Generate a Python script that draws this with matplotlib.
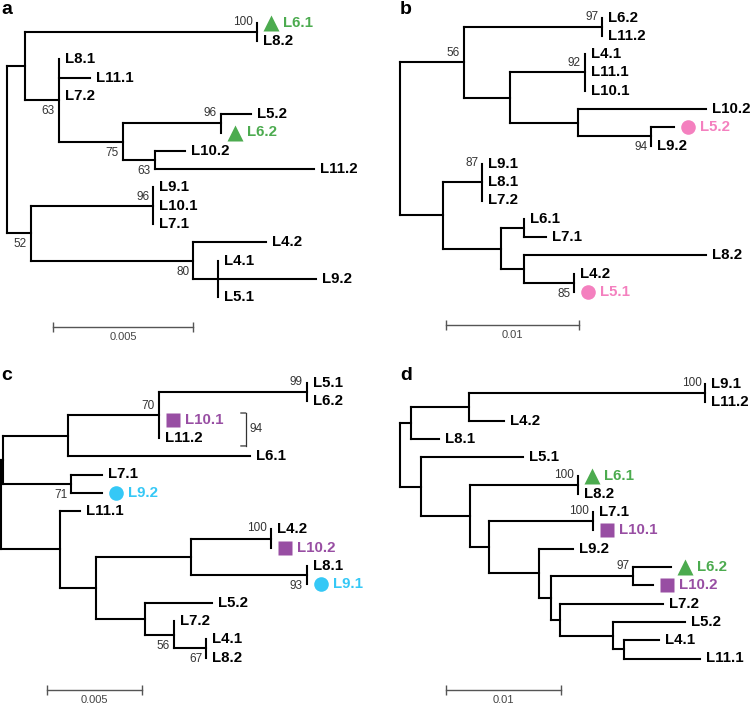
import matplotlib
matplotlib.use("Agg")
import matplotlib.pyplot as plt
from matplotlib.transforms import offset_copy

plt.rcParams['font.family'] = ['Liberation Sans', 'DejaVu Sans']

# trees in newick form, branch lengths in substitutions/site, internal labels = bootstrap
a_tree = ("(((L6.1:0,L8.2:0)100:0.0083,(L8.1:0,L11.1:0.00114,L7.2:0,"
          "((L5.2:0.00107,L6.2:0)96:0.0035,(L10.2:0.00107,L11.2:0.0057)63:0.00114)75:0.0023)63:0.0012):0.00064,"
          "((L9.1:0,L10.1:0,L7.1:0)96:0.00436,(L4.2:0.0026,(L4.1:0,L9.2:0.0035,L5.1:0):0.00086)80:0.0058)52:0.00086);")
b_tree = ("(((L6.2:0,L11.2:0)97:0.0104,((L4.1:0,L11.1:0,L10.1:0)92:0.0056,"
          "(L10.2:0.0096,(L5.2:0.0017,L9.2:0)94:0.0055):0.0051):0.0035)56:0.0048,"
          "((L9.1:0,L8.1:0,L7.2:0)87:0.0030,((L6.1:0,L7.1:0.0017):0.0017,"
          "(L8.2:0.0137,(L4.2:0,L5.1:0)85:0.0038):0.0017):0.0044):0.0032);")
c_tree = ("(((((L5.1:0,L6.2:0)99:0.0078,L10.1:0,L11.2:0)70:0.0048,L6.1:0.0096):0.0034,"
          "(L7.1:0.0016,L9.2:0.0016)71:0.0036):0.0001,"
          "(L11.1:0.00105,(((L4.2:0,L10.2:0)100:0.0042,(L8.1:0,L9.1:0)93:0.0061):0.005,"
          "(L5.2:0.0035,(L7.2:0,(L4.1:0,L8.2:0)67:0.0017)56:0.0015):0.0026):0.0019):0.0031);")
d_tree = ("((((L9.1:0,L11.2:0)100:0.0206,L4.2:0.0031):0.0050,L8.1:0.0024):0.00096,"
          "(L5.1:0.0089,((L6.1:0,L8.2:0)100:0.0094,((L7.1:0,L10.1:0)100:0.0091,"
          "(L9.2:0.0029,((L6.2:0.0033,L10.2:0.0017)97:0.0072,(L7.2:0.0090,"
          "(L5.2:0.0063,(L4.1:0.0030,L11.1:0.0066):0.0010):0.0046):0.0008):0.0010):0.0044):0.0016):0.0043):0.0018);")

# where each bootstrap value sits, in preorder
a_support_pos = ['top', 'below', 'below', 'top', 'below', 'below', 'above', 'below']
b_support_pos = ['above', 'top', 'above', 'below', 'top', 'below']
c_support_pos = ['above', 'top', 'below', 'top', 'below', 'below', 'below']
d_support_pos = ['top', 'top', 'top', 'top']

# highlighted isolates
a_marked = ['L6.1', 'L6.2']
b_marked = ['L5.2', 'L5.1']
c_marked = ['L10.1', 'L10.2', 'L9.2', 'L9.1']
d_marked = ['L6.1', 'L6.2', 'L10.1', 'L10.2']

scale_lengths = [0.005, 0.01, 0.005, 0.01]
scale_labels = ['0.005', '0.01', '0.005', '0.01']
c_bracket = ('L10.1', 'L11.2', '94')

marker_style = {'L6': ('^', '#4cab4f'), 'L5': ('o', '#f480bf'),
                'L9': ('o', '#35c8f6'), 'L10': ('s', '#984ea3')}

W, H = 753, 706
SP = 18.3  # px between leaves


def parse(s):
    s = s.strip().rstrip(';')
    pos = 0

    def node():
        nonlocal pos
        kids = []
        if s[pos] == '(':
            pos += 1
            kids.append(node())
            while s[pos] == ',':
                pos += 1
                kids.append(node())
            pos += 1
        start = pos
        while pos < len(s) and s[pos] not in ',):':
            pos += 1
        name = s[start:pos]
        length = 0.0
        if pos < len(s) and s[pos] == ':':
            pos += 1
            start = pos
            while pos < len(s) and s[pos] not in ',)':
                pos += 1
            length = float(s[start:pos])
        return {'name': name, 'len': length, 'kids': kids}
    return node()


def layout(n, x0, leaves):
    n['x'] = x0 + n['len']
    if not n['kids']:
        n['y'] = len(leaves)
        leaves.append(n)
    else:
        for k in n['kids']:
            layout(k, n['x'], leaves)
        n['y'] = (n['kids'][0]['y'] + n['kids'][-1]['y']) / 2


def preorder(n):
    yield n
    for k in n['kids']:
        yield from preorder(k)


def draw_panel(fig, letter, newick, support_pos, marked, bar_len, bar_label, box, root, first, ppu, bar, letter_xy):
    left, top, w, h = box
    ax = fig.add_axes([left / W, 1 - (top + h) / H, w / W, h / H])
    ax.set_xlim(-root / ppu, (w - root) / ppu)
    ax.set_ylim((h - first) / SP, -first / SP)
    ax.axis('off')

    tree = parse(newick)
    leaves = []
    layout(tree, -tree['len'], leaves)

    lw = 1.5
    internal = [n for n in preorder(tree) if n['kids']]
    for n in internal:
        ax.plot([n['x'], n['x']], [n['kids'][0]['y'], n['kids'][-1]['y']],
                color='black', lw=lw, solid_capstyle='projecting')
        for k in n['kids']:
            if k['len'] > 0:
                ax.plot([n['x'], k['x']], [k['y'], k['y']], color='black', lw=lw,
                        solid_capstyle='projecting')

    # bootstrap values
    labelled = [n for n in internal if n['name']]
    for n, p in zip(labelled, support_pos):
        if p == 'top':
            y, dy = n['kids'][0]['y'], 1
        elif p == 'above':
            y, dy = n['y'], 9
        else:
            y, dy = n['y'], -11
        tr = offset_copy(ax.transData, fig=fig, x=-4, y=dy, units='dots')
        ax.text(n['x'], y, n['name'], transform=tr, ha='right', va='center',
                fontsize=8.5, color='#333333')

    # leaf names
    for lf in leaves:
        name = lf['name']
        colour = 'black'
        dx = 6
        if name in marked:
            m, colour = marker_style[name.split('.')[0]]
            size = {'^': 12, 'o': 10.5, 's': 9.5}[m]
            tr = offset_copy(ax.transData, fig=fig, x=14, y=0, units='dots')
            ax.plot(lf['x'], lf['y'], m, ms=size, color=colour, mec='none',
                    transform=tr, clip_on=False)
            dx = 26
        tr = offset_copy(ax.transData, fig=fig, x=dx, y=0, units='dots')
        ax.text(lf['x'], lf['y'], name, transform=tr, ha='left', va='center',
                fontsize=10.8, fontweight='bold', color=colour)

    # scale bar
    bx = (bar[0] - left - root) / ppu
    by = 1 - (bar[1] - top) / h
    tb = ax.get_xaxis_transform()
    ax.plot([bx, bx + bar_len], [by, by], color='#555555', lw=1, transform=tb,
            marker='|', ms=7, mew=1, clip_on=False)
    ax.text(bx + bar_len / 2, by - 10 / h, bar_label, transform=tb, ha='center',
            va='center', fontsize=8, color='#444444')

    fig.text(letter_xy[0] / W, 1 - letter_xy[1] / H, letter, fontsize=14,
             fontweight='bold', ha='left', va='center')
    return ax, leaves


def main():
    fig = plt.figure(figsize=(W / 100, H / 100), dpi=100)

    specs = [
        ('a', a_tree, a_support_pos, a_marked, dict(box=(0, 0, 376, 353), root=7, first=22.7,
                                                     ppu=28000, bar=(53, 327), letter_xy=(1, 10))),
        ('b', b_tree, b_support_pos, b_marked, dict(box=(376, 0, 377, 353), root=24, first=17.5,
                                                     ppu=13300, bar=(446, 325), letter_xy=(400, 10))),
        ('c', c_tree, c_support_pos, c_marked, dict(box=(0, 353, 376, 353), root=1, first=30,
                                                     ppu=19000, bar=(47, 690), letter_xy=(1, 376))),
        ('d', d_tree, d_support_pos, d_marked, dict(box=(376, 353, 377, 353), root=24, first=31,
                                                     ppu=11500, bar=(446, 690), letter_xy=(400, 375))),
    ]
    for i, (letter, tree, pos, marked, lay) in enumerate(specs):
        ax, leaves = draw_panel(fig, letter, tree, pos, marked, scale_lengths[i], scale_labels[i], **lay)
        if letter == 'c':
            # bracket grouping the collapsed pair
            lo, hi, lab = c_bracket
            l1 = [l for l in leaves if l['name'] == lo][0]
            l2 = [l for l in leaves if l['name'] == hi][0]
            tr = offset_copy(ax.transData, fig=fig, x=87, y=0, units='dots')
            tr2 = offset_copy(ax.transData, fig=fig, x=82, y=0, units='dots')
            y1, y2 = l1['y'] - 0.36, l2['y'] + 0.44
            xb = l1['x']
            ax.plot([xb, xb], [y1, y2], color='#333333', lw=0.9, transform=tr)
            for yy in (y1, y2):
                ax.annotate('', xy=(xb, yy), xycoords=tr, xytext=(xb, yy), textcoords=tr2,
                            arrowprops=dict(arrowstyle='-', color='#333333', lw=0.9,
                                            shrinkA=0, shrinkB=0))
            tr3 = offset_copy(ax.transData, fig=fig, x=91, y=0, units='dots')
            ax.text(xb, (l1['y'] + l2['y']) / 2, lab, transform=tr3, ha='left', va='center',
                    fontsize=8.5, color='#333333')

    fig.savefig('out.png', dpi=100)


if __name__ == "__main__":
    main()
